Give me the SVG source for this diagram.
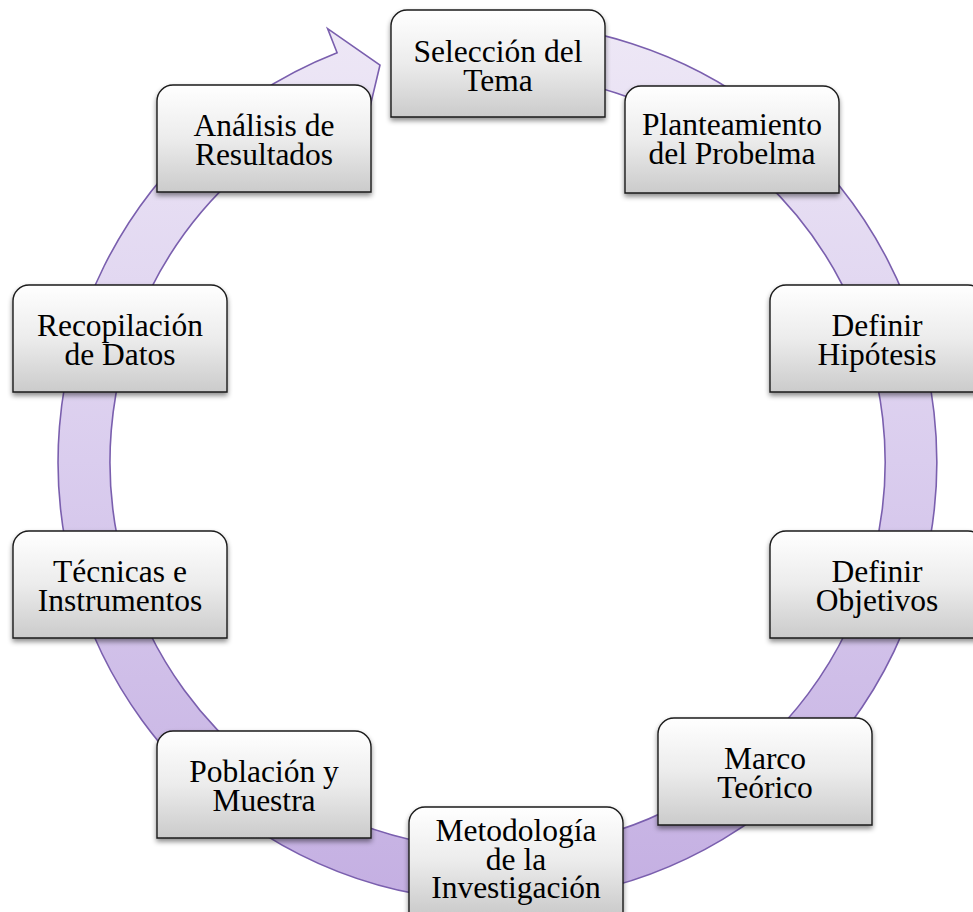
<svg xmlns="http://www.w3.org/2000/svg" xmlns:xlink="http://www.w3.org/1999/xlink" width="973" height="912" viewBox="0 0 973 912">
  <style>
    .box { fill: url(#boxFill); stroke: #1a1a1a; stroke-width: 1.4; filter: url(#shadow); }
    .label { font-family: "Liberation Serif", "Times New Roman", serif; font-size: 31.5px; fill: #000; text-anchor: middle; }
    .ring { fill: url(#ringFill); stroke: #7a5fae; stroke-width: 1.6; stroke-linejoin: miter; }
  </style>
  <defs>
    <linearGradient id="boxFill" x1="0" y1="0" x2="0" y2="1">
      <stop offset="0" stop-color="#ffffff"/>
      <stop offset="0.5" stop-color="#ececec"/>
      <stop offset="1" stop-color="#cbcbcb"/>
    </linearGradient>
    <linearGradient id="ringFill" gradientUnits="userSpaceOnUse" x1="0" y1="20" x2="0" y2="900">
      <stop offset="0" stop-color="#eee8f6"/>
      <stop offset="0.5" stop-color="#dacdee"/>
      <stop offset="1" stop-color="#c4afe2"/>
    </linearGradient>
    <filter id="shadow" x="-10%" y="-10%" width="120%" height="130%">
      <feDropShadow dx="0" dy="3" stdDeviation="2.5" flood-color="#000" flood-opacity="0.45"/>
    </filter>
    <!-- step box: rounded top corners, square bottom -->
    <path id="box" d="M0,107 V16 A16,16 0 0 1 16,0 H198 A16,16 0 0 1 214,16 V107 Z"/>
  </defs>

  <rect width="973" height="912" fill="#ffffff"/>

  <!-- circular arrow running clockwise through all steps -->
  <g id="connectors">
    <path class="ring" d="M474.5,23.1 A439.5,439.5 0 0 1 573.8,894.8 A439.5,439.5 0 0 1 337.1,52.8 L327.6,28.6 L380,65 L365.6,125.4 L356.1,101.2 A387.5,387.5 0 0 0 564.8,843.6 A387.5,387.5 0 0 0 477.2,75.0 Z"/>
  </g>

  <g id="node-seleccion">
    <use xlink:href="#box" href="#box" class="box" x="391" y="10"/>
    <text class="label" x="498" y="62">Selección del<tspan x="498" dy="29">Tema</tspan></text>
  </g>
  <g id="node-planteamiento">
    <use xlink:href="#box" href="#box" class="box" x="625" y="86"/>
    <text class="label" x="732" y="135">Planteamiento<tspan x="732" dy="29">del Probelma</tspan></text>
  </g>
  <g id="node-hipotesis">
    <use xlink:href="#box" href="#box" class="box" x="770" y="285"/>
    <text class="label" x="877" y="336">Definir<tspan x="877" dy="29">Hipótesis</tspan></text>
  </g>
  <g id="node-objetivos">
    <use xlink:href="#box" href="#box" class="box" x="770" y="531"/>
    <text class="label" x="877" y="582">Definir<tspan x="877" dy="29">Objetivos</tspan></text>
  </g>
  <g id="node-marco">
    <use xlink:href="#box" href="#box" class="box" x="658" y="718"/>
    <text class="label" x="765" y="769">Marco<tspan x="765" dy="29">Teórico</tspan></text>
  </g>
  <g id="node-metodologia">
    <use xlink:href="#box" href="#box" class="box" x="409" y="807"/>
    <text class="label" x="516" y="841">Metodología<tspan x="516" dy="29">de la</tspan><tspan x="516" dy="28">Investigación</tspan></text>
  </g>
  <g id="node-poblacion">
    <use xlink:href="#box" href="#box" class="box" x="157" y="731"/>
    <text class="label" x="264" y="782">Población y<tspan x="264" dy="29">Muestra</tspan></text>
  </g>
  <g id="node-tecnicas">
    <use xlink:href="#box" href="#box" class="box" x="13" y="531"/>
    <text class="label" x="120" y="582">Técnicas e<tspan x="120" dy="29">Instrumentos</tspan></text>
  </g>
  <g id="node-recopilacion">
    <use xlink:href="#box" href="#box" class="box" x="13" y="285"/>
    <text class="label" x="120" y="336">Recopilación<tspan x="120" dy="29">de Datos</tspan></text>
  </g>
  <g id="node-analisis">
    <use xlink:href="#box" href="#box" class="box" x="157" y="85"/>
    <text class="label" x="264" y="136">Análisis de<tspan x="264" dy="29">Resultados</tspan></text>
  </g>
</svg>
